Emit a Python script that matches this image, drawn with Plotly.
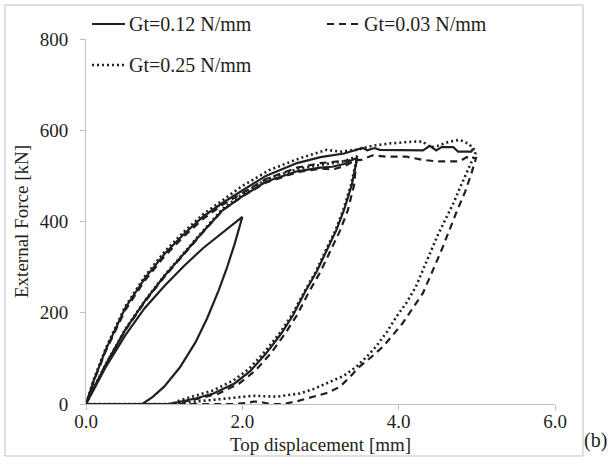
import plotly.graph_objects as go

# ---------------- data (Top displacement [mm], External Force [kN]) ----------------
# Gt = 0.12 N/mm (solid)
s_load1_x = [0, 0.1, 0.25, 0.5, 0.75, 1.0, 1.25, 1.5, 1.75, 2.0]
s_load1_y = [0, 33, 80, 150, 210, 258, 302, 342, 377, 410]
s_unl1_x = [2.0, 1.9, 1.8, 1.7, 1.55, 1.4, 1.2, 1.0, 0.85, 0.72, 0.4, 0.0]
s_unl1_y = [410, 350, 297, 250, 188, 135, 80, 38, 15, 0, 0, 0]
s_load2_x = [0, 0.1, 0.25, 0.5, 0.75, 1.0, 1.25, 1.5, 1.75, 2.0, 2.3, 2.7, 3.0, 3.15, 3.3, 3.47]
s_load2_y = [0, 35, 86, 162, 225, 280, 330, 378, 425, 455, 487, 510, 518, 520, 526, 540]
s_unl2_x = [3.47, 3.4, 3.3, 3.2, 3.08, 2.95, 2.8, 2.65, 2.5, 2.3, 2.1, 1.9, 1.63, 1.4, 1.2, 1.05, 0.5, 0.0]
s_unl2_y = [540, 480, 425, 380, 338, 290, 245, 195, 155, 110, 72, 45, 23, 12, 5, 0, 0, 0]
s_load3_x = [0, 0.1, 0.25, 0.5, 0.75, 1.0, 1.25, 1.5, 1.75, 2.0, 2.3, 2.7, 3.0, 3.3, 3.46, 3.54, 3.6,
             3.69, 3.76, 4.0, 4.31, 4.4, 4.48, 4.55, 4.7, 4.76, 4.93, 4.95]
s_load3_y = [0, 52, 118, 210, 275, 328, 372, 411, 441, 468, 500, 528, 541, 549, 557, 561, 556,
             561, 557, 556, 556, 566, 556, 563, 563, 553, 553, 560]

# Gt = 0.03 N/mm (dashed)
d_load2_x = [0, 0.1, 0.25, 0.5, 0.75, 1.0, 1.25, 1.5, 1.75, 2.0, 2.3, 2.7, 3.0, 3.15, 3.3, 3.46]
d_load2_y = [0, 34, 85, 161, 223, 278, 328, 377, 425, 455, 485, 508, 516, 514, 521, 535]
d_unl2_x = [3.46, 3.43, 3.35, 3.25, 3.13, 3.0, 2.85, 2.7, 2.55, 2.36, 2.16, 1.96, 1.7, 1.45, 1.25, 1.12, 0.6, 0.0]
d_unl2_y = [535, 480, 425, 380, 338, 290, 245, 195, 155, 110, 72, 45, 23, 12, 5, 0, 0, 0]
d_load3_x = [0, 0.1, 0.25, 0.5, 0.75, 1.0, 1.25, 1.5, 1.75, 2.0, 2.3, 2.7, 3.0, 3.3, 3.52, 3.67,
             3.84, 4.1, 4.31, 4.48, 4.61, 4.78, 4.87, 4.99]
d_load3_y = [0, 50, 115, 205, 270, 323, 367, 406, 437, 462, 493, 518, 528, 533, 535, 545,
             542, 542, 535, 532, 532, 532, 541, 539]
d_unl3_x = [4.99, 4.93, 4.85, 4.75, 4.65, 4.55, 4.43, 4.31, 4.18, 4.05, 3.92, 3.8, 3.65, 3.5, 3.38,
            3.25, 3.1, 2.9, 2.7, 2.52, 2.35, 2.22, 2.14, 2.05, 1.9, 1.6, 1.3, 0.0]
d_unl3_y = [539, 505, 465, 425, 380, 338, 290, 243, 210, 177, 150, 126, 103, 82, 60,
            38, 25, 16, 6, 0, 0, 5, 5, 2, 0, 0, 0, 0]

# Gt = 0.25 N/mm (dotted)
t_load2_x = [0, 0.1, 0.25, 0.5, 0.75, 1.0, 1.25, 1.5, 1.75, 2.0, 2.3, 2.7, 3.0, 3.3, 3.47]
t_load2_y = [0, 35, 86, 163, 226, 281, 331, 380, 428, 460, 492, 515, 524, 532, 543]
t_unl2_x = [3.47, 3.39, 3.29, 3.19, 3.07, 2.94, 2.79, 2.64, 2.49, 2.29, 2.09, 1.89, 1.63, 1.4, 1.2, 1.1, 0.6, 0.0]
t_unl2_y = [543, 480, 425, 380, 338, 290, 245, 197, 158, 115, 78, 52, 30, 18, 8, 0, 0, 0]
t_load3_x = [0, 0.1, 0.25, 0.5, 0.75, 1.0, 1.25, 1.5, 1.75, 2.0, 2.35, 2.74, 3.08, 3.25, 3.45, 3.67,
             3.88, 4.18, 4.31, 4.4, 4.5, 4.65, 4.78, 4.9, 4.99]
t_load3_y = [0, 54, 121, 213, 279, 333, 377, 416, 447, 478, 513, 539, 557, 553, 557, 566,
             571, 575, 575, 562, 566, 575, 579, 570, 553]
t_unl3_x = [4.99, 4.9, 4.8, 4.7, 4.6, 4.5, 4.4, 4.3, 4.22, 4.1, 3.97, 3.85, 3.71, 3.6, 3.46, 3.3,
            3.08, 2.9, 2.73, 2.44, 2.14, 1.9, 1.63, 1.4, 1.2, 1.1, 0.0]
t_unl3_y = [553, 520, 480, 440, 405, 370, 330, 290, 257, 222, 191, 158, 126, 105, 82, 62,
            45, 32, 23, 16, 18, 14, 9, 6, 3, 0, 0]

series_names = ["Gt=0.12 N/mm", "Gt=0.03 N/mm", "Gt=0.25 N/mm"]
x_ticks = [0, 2, 4, 6]
x_tick_labels = ["0.0", "2.0", "4.0", "6.0"]
y_ticks = [0, 200, 400, 600, 800]

# ---------------- figure ----------------
INK = "#231f20"
GRAY = "#bfbfbf"
FONT = "'Liberation Serif', 'Times New Roman', Times, serif"

styles = [dict(color=INK, width=2.2, dash="solid"),
          dict(color=INK, width=2.2, dash="7px,5px"),
          dict(color=INK, width=2.6, dash="2px,3px")]

solid_x = s_load1_x + s_unl1_x + s_load2_x + s_unl2_x + s_load3_x
solid_y = s_load1_y + s_unl1_y + s_load2_y + s_unl2_y + s_load3_y
dash_x = d_load2_x + d_unl2_x + d_load3_x + d_unl3_x
dash_y = d_load2_y + d_unl2_y + d_load3_y + d_unl3_y
dot_x = t_load2_x + t_unl2_x + t_load3_x + t_unl3_x
dot_y = t_load2_y + t_unl2_y + t_load3_y + t_unl3_y

fig = go.Figure()
fig.add_trace(go.Scatter(x=dot_x, y=dot_y, mode="lines", name=series_names[2],
                         line=styles[2], showlegend=False))
fig.add_trace(go.Scatter(x=dash_x, y=dash_y, mode="lines", name=series_names[1],
                         line=styles[1], showlegend=False))
fig.add_trace(go.Scatter(x=solid_x, y=solid_y, mode="lines", name=series_names[0],
                         line=styles[0], showlegend=False))

PL, PR, PT, PB = 86, 54, 39, 68
W, H = 609, 472
pw, ph = W - PL - PR, H - PT - PB


def px(p):
    return (p - PL) / pw


def py(q):
    return (H - PB - q) / ph


# hand-placed legend (sample line + label), positions in pixels
legend_slots = [(92, 24), (327, 24), (92, 65)]
shapes = [dict(type="rect", xref="paper", yref="paper",
               x0=px(5), x1=px(583), y0=py(456), y1=py(5),
               line=dict(color=GRAY, width=1), fillcolor="rgba(0,0,0,0)", layer="below")]
annotations = [dict(text="(b)", xref="paper", yref="paper", x=px(609), y=py(441),
                    xanchor="right", yanchor="middle", showarrow=False,
                    font=dict(family=FONT, size=20, color=INK))]
for (lx, ly), name, st in zip(legend_slots, series_names, styles):
    seg_end = lx + 33
    shapes.append(dict(type="line", xref="paper", yref="paper",
                       x0=px(lx), x1=px(seg_end), y0=py(ly), y1=py(ly), line=st))
    annotations.append(dict(text=name, xref="paper", yref="paper", x=px(seg_end + 2), y=py(ly),
                            xanchor="left", yanchor="middle", showarrow=False,
                            font=dict(family=FONT, size=20, color=INK)))

fig.update_layout(
    width=W, height=H,
    margin=dict(l=PL, r=PR, t=PT, b=PB),
    paper_bgcolor="white", plot_bgcolor="white",
    font=dict(family=FONT, size=19, color=INK),
    showlegend=False,
    xaxis=dict(range=[0, 6], tickvals=x_ticks, ticktext=x_tick_labels,
               showline=True, linecolor=GRAY, linewidth=1, showgrid=False, zeroline=False,
               ticks="outside", ticklen=5, tickcolor=GRAY, tickwidth=1,
               ticklabelstandoff=-5,
               tickfont=dict(family=FONT, size=19, color=INK),
               title=dict(text="Top displacement [mm]", font=dict(family=FONT, size=19, color=INK),
                          standoff=6)),
    yaxis=dict(range=[0, 800], tickvals=y_ticks,
               showline=True, linecolor=GRAY, linewidth=1, showgrid=False, zeroline=False,
               ticks="outside", ticklen=5, tickcolor=GRAY, tickwidth=1,
               ticklabelstandoff=8,
               tickfont=dict(family=FONT, size=19, color=INK),
               title=dict(text="External Force [kN]", font=dict(family=FONT, size=19, color=INK),
                          standoff=6)),
    shapes=shapes,
    annotations=annotations,
)

fig.write_html("out.html")
